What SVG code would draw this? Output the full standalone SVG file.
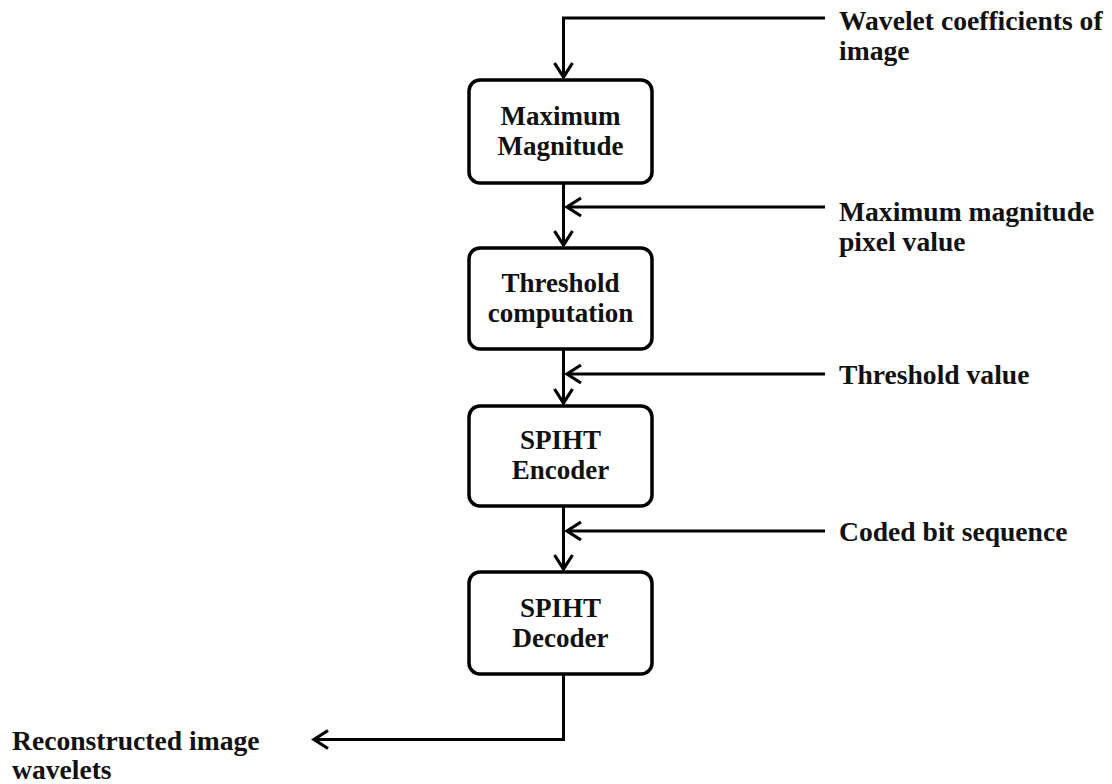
<svg xmlns="http://www.w3.org/2000/svg" width="1112" height="784" viewBox="0 0 1112 784">
  <style>
    .box { fill: #ffffff; stroke: #000000; stroke-width: 3.5; }
    .t { font-family: "Liberation Serif", "Times New Roman", serif; font-weight: bold; font-size: 27.6px; fill: #111111; }
    .c { text-anchor: middle; font-size: 27px; }
    .wire { fill: none; stroke: #000000; stroke-width: 3; }
  </style>
  <defs>
    <marker id="arr" markerUnits="userSpaceOnUse" markerWidth="30" markerHeight="30" viewBox="-20 -15 30 30" refX="0" refY="0" orient="auto">
      <path d="M-14,-9 L0,0 L-14,9" fill="none" stroke="#000000" stroke-width="3.2" stroke-linejoin="miter"/>
    </marker>
  </defs>
  <rect width="1112" height="784" fill="#ffffff"/>

  <g id="connectors">
    <path class="wire" d="M825,18 H563.5 V77" marker-end="url(#arr)"/>
    <path class="wire" d="M563.5,183 V245" marker-end="url(#arr)"/>
    <path class="wire" d="M825,207 H567" marker-end="url(#arr)"/>
    <path class="wire" d="M563.5,349 V403" marker-end="url(#arr)"/>
    <path class="wire" d="M825,374 H567" marker-end="url(#arr)"/>
    <path class="wire" d="M563.5,506 V569" marker-end="url(#arr)"/>
    <path class="wire" d="M825,531 H567" marker-end="url(#arr)"/>
    <path class="wire" d="M563.5,674 V739.5 H314" marker-end="url(#arr)"/>
  </g>

  <g id="node-max-magnitude">
    <rect class="box" x="469" y="80" width="183" height="103" rx="11"/>
    <text class="t c" x="560.5" y="125">Maximum</text>
    <text class="t c" x="560.5" y="155">Magnitude</text>
  </g>
  <g id="node-threshold">
    <rect class="box" x="469" y="248" width="183" height="101" rx="11"/>
    <text class="t c" x="560.5" y="292">Threshold</text>
    <text class="t c" x="560.5" y="322">computation</text>
  </g>
  <g id="node-encoder">
    <rect class="box" x="469" y="406" width="183" height="100" rx="11"/>
    <text class="t c" x="560.5" y="449">SPIHT</text>
    <text class="t c" x="560.5" y="479">Encoder</text>
  </g>
  <g id="node-decoder">
    <rect class="box" x="469" y="572" width="183" height="102" rx="11"/>
    <text class="t c" x="560.5" y="617">SPIHT</text>
    <text class="t c" x="560.5" y="647">Decoder</text>
  </g>

  <g id="label-wavelet">
    <text class="t" x="839" y="30">Wavelet coefficients of</text>
    <text class="t" x="839" y="60">image</text>
  </g>
  <g id="label-maxpixel">
    <text class="t" x="839" y="221">Maximum magnitude</text>
    <text class="t" x="839" y="251">pixel value</text>
  </g>
  <g id="label-threshold">
    <text class="t" x="839" y="384">Threshold value</text>
  </g>
  <g id="label-coded">
    <text class="t" x="839" y="541">Coded bit sequence</text>
  </g>
  <g id="label-reconstructed">
    <text class="t" x="12" y="750">Reconstructed image</text>
    <text class="t" x="12" y="779">wavelets</text>
  </g>
</svg>
